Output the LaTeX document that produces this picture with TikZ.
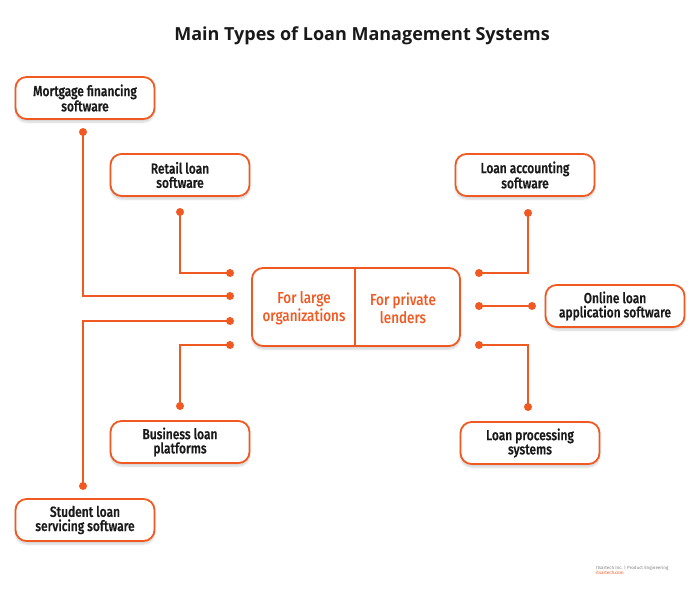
\documentclass[tikz,border=0pt]{standalone}
\usepackage{fontspec}
\setmainfont{Fira Sans}
\newfontfamily\condfont[FakeStretch=0.82,FakeBold=0.6]{Fira Sans Medium}
\newfontfamily\centerfont[FakeStretch=0.84]{Fira Sans Medium}
\newfontfamily\titlefont{Open Sans}
\usetikzlibrary{shadows.blur}
\definecolor{brand}{RGB}{240,90,34}
\definecolor{txt}{RGB}{25,25,25}
\tikzset{
  x=1pt,y=-1pt,
  item/.style={draw=brand, line width=1.8pt, rounded corners=11pt, fill=white,
    minimum width=139pt, minimum height=42pt, align=center, inner sep=2pt,
    font=\condfont\fontsize{14.6}{14.2}\selectfont, text=txt,
    blur shadow={shadow blur steps=6, shadow xshift=0pt, shadow yshift=-3pt, shadow opacity=18}},
  link/.style={draw=brand, line width=1.8pt},
  dot/.style={circle, fill=brand, inner sep=0pt, minimum size=8pt},
}
\begin{document}
\begin{tikzpicture}
\useasboundingbox (0,0) rectangle (700,595);
\node[font=\titlefont\bfseries\fontsize{18}{20}\selectfont, text=txt] (title) at (362,36) {Main Types of Loan Management Systems};

% center box
\node[draw=brand, line width=1.8pt, rounded corners=11pt, fill=white, minimum width=208pt, minimum height=78pt,
  blur shadow={shadow blur steps=6, shadow xshift=0pt, shadow yshift=-3pt, shadow opacity=18}] (center) at (356,307) {};
\draw[brand, line width=1.5pt] (355,268) -- (355,346);
\node[font=\centerfont\fontsize{16}{18.5}\selectfont, text=brand, align=center] (large) at (304,308) {For large\\organizations};
\node[font=\centerfont\fontsize{16}{18.5}\selectfont, text=brand, align=center] (private) at (403,308) {For private\\lenders};

% items
\node[item] (mort) at (85,98) {Mortgage financing\\software};
\node[item] (retail) at (180,175) {Retail loan\\software};
\node[item] (acct) at (525,175) {Loan accounting\\software};
\node[item] (online) at (615,306) {Online loan\\application software};
\node[item] (biz) at (180,442) {Business loan\\platforms};
\node[item] (proc) at (530,443) {Loan processing\\systems};
\node[item] (stud) at (85,520) {Student loan\\servicing software};

% dots
\node[dot] (m1) at (83,132) {};
\node[dot] (m2) at (230,296) {};
\node[dot] (r1) at (180,212) {};
\node[dot] (r2) at (230,273) {};
\node[dot] (s1) at (83,486) {};
\node[dot] (s2) at (230,321) {};
\node[dot] (b1) at (180,406) {};
\node[dot] (b2) at (230,345) {};
\node[dot] (a1) at (528,213) {};
\node[dot] (a2) at (479,273) {};
\node[dot] (o1) at (479,306) {};
\node[dot] (o2) at (532,306) {};
\node[dot] (p1) at (528,407) {};
\node[dot] (p2) at (479,345) {};

\draw[link] (m1.center) |- (m2.center);
\draw[link] (r1.center) |- (r2.center);
\draw[link] (s1.center) |- (s2.center);
\draw[link] (b1.center) |- (b2.center);
\draw[link] (a1.center) |- (a2.center);
\draw[link] (o1.center) -- (o2.center);
\draw[link] (p1.center) |- (p2.center);

% footer
\node[anchor=west, font=\fontsize{4.5}{5}\selectfont, text=gray, align=left, inner sep=0pt] (foot) at (596,570) {Itsartech Inc. | Product Engineering\\\textcolor{brand}{itsartech.com}};
\end{tikzpicture}
\end{document}
